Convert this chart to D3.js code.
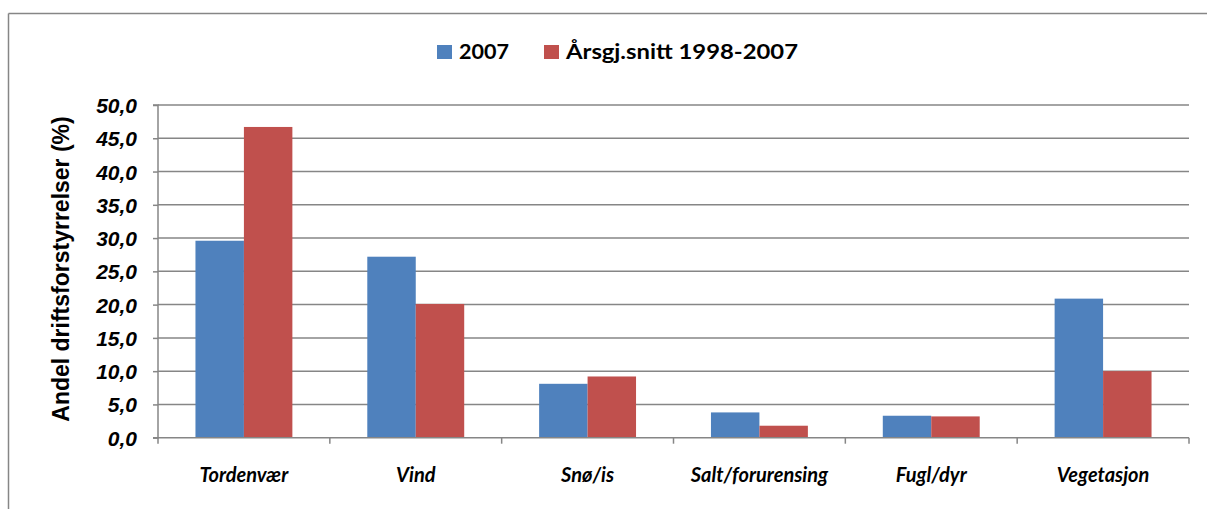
<html>
<head>
<meta charset="utf-8">
<script src="https://cdn.jsdelivr.net/npm/d3@7"></script>
<style>
  html, body { margin: 0; background: #fff; overflow: hidden; }
  svg { display: block; }
</style>
</head>
<body>
<div id="viz"></div>
<script>
var categories = ["Tordenvær", "Vind", "Snø/is", "Salt/forurensing", "Fugl/dyr", "Vegetasjon"];
var seriesNames = ["2007", "Årsgj.snitt 1998-2007"];
var values2007 = [29.6, 27.2, 8.1, 3.8, 3.3, 20.9];
var valuesAvg = [46.7, 20.1, 9.2, 1.8, 3.2, 10.0];
var yTicks = [0, 5, 10, 15, 20, 25, 30, 35, 40, 45, 50];
var colors = ["#4F81BD", "#C0504D"];

var width = 1207, height = 509;
var plot = { left: 158, right: 1189, top: 105, bottom: 437.7 };

var svg = d3.select("#viz").append("svg")
  .attr("width", width)
  .attr("height", height);

// outer frame: only left and top edges are inside the picture
svg.append("line")
  .attr("x1", 8.5).attr("y1", 13.5).attr("x2", 8.5).attr("y2", height)
  .attr("stroke", "#868686").attr("stroke-width", 1.5);
svg.append("line")
  .attr("x1", 8.5).attr("y1", 13.5).attr("x2", width).attr("y2", 13.5)
  .attr("stroke", "#868686").attr("stroke-width", 1.5);

var y = d3.scaleLinear().domain([0, 50]).range([plot.bottom, plot.top]);
var x0 = d3.scaleBand().domain(categories).range([plot.left, plot.right]).padding(0);
var x1 = d3.scaleBand().domain(seriesNames)
  .range([x0.bandwidth() * 0.218, x0.bandwidth() * 0.782]).padding(0);

// gridlines
svg.append("g").selectAll("line").data(yTicks.slice(1)).join("line")
  .attr("x1", plot.left).attr("x2", plot.right)
  .attr("y1", d => y(d)).attr("y2", d => y(d))
  .attr("stroke", "#868686").attr("stroke-width", 1.5);

// bars
var rows = categories.map((c, i) => ({ cat: c, vals: [values2007[i], valuesAvg[i]] }));
var groups = svg.append("g").selectAll("g").data(rows).join("g")
  .attr("transform", d => "translate(" + x0(d.cat) + ",0)");
groups.selectAll("rect").data(d => d.vals.map((v, j) => ({ s: seriesNames[j], v: v, j: j }))).join("rect")
  .attr("x", d => x1(d.s))
  .attr("width", x1.bandwidth())
  .attr("y", d => y(d.v))
  .attr("height", d => y(0) - y(d.v))
  .attr("fill", d => colors[d.j]);

// y axis
var yAxis = d3.axisLeft(y).tickValues(yTicks).tickSize(5)
  .tickFormat(d => d3.format(".1f")(d).replace(".", ","));
var gy = svg.append("g").attr("transform", "translate(" + plot.left + ",0)").call(yAxis);
gy.select(".domain").attr("stroke", "#868686").attr("stroke-width", 1.5).attr("d", "M-5," + plot.top + "H0V" + plot.bottom + "H-5");
gy.selectAll(".tick line").attr("stroke", "#868686").attr("stroke-width", 1.5);
gy.selectAll(".tick text")
  .attr("x", -21).attr("dy", "0.36em")
  .style("font-family", "'Liberation Sans', Arial, sans-serif")
  .style("font-size", "21px").style("font-weight", "bold").style("font-style", "italic")
  .attr("fill", "#000");

// x axis
var gx = svg.append("g").attr("transform", "translate(0," + plot.bottom + ")");
gx.append("line").attr("x1", plot.left).attr("x2", plot.right)
  .attr("stroke", "#868686").attr("stroke-width", 1.5);
var bounds = categories.map(c => x0(c)).concat([plot.right]);
gx.selectAll("line.tk").data(bounds).join("line").attr("class", "tk")
  .attr("x1", d => d).attr("x2", d => d).attr("y1", 0).attr("y2", 6)
  .attr("stroke", "#868686").attr("stroke-width", 1.5);
gx.selectAll("text").data(categories).join("text")
  .attr("x", d => x0(d) + x0.bandwidth() / 2).attr("y", 44)
  .attr("text-anchor", "middle")
  .style("font-family", "Lato, 'Open Sans', sans-serif")
  .style("font-size", "20px").style("font-weight", "bold").style("font-style", "italic")
  .text(d => d);

// y title
svg.append("text")
  .attr("transform", "translate(69,269) rotate(-90)")
  .attr("text-anchor", "middle")
  .style("font-family", "'Liberation Sans', Arial, sans-serif")
  .style("font-size", "23px").style("font-weight", "bold")
  .text("Andel driftsforstyrrelser (%)");

// legend
var legendX = [437, 544];
var legendW = [50, 232];
var lg = svg.append("g").selectAll("g").data(seriesNames).join("g")
  .attr("transform", (d, i) => "translate(" + legendX[i] + ",45)");
lg.append("rect").attr("width", 15).attr("height", 14).attr("fill", (d, i) => colors[i]);
lg.append("text").attr("x", 22).attr("y", 14)
  .attr("textLength", (d, i) => legendW[i]).attr("lengthAdjust", "spacingAndGlyphs")
  .style("font-family", "Lato, 'Open Sans', sans-serif")
  .style("font-size", "21px").style("font-weight", "bold")
  .text(d => d);
</script>
</body>
</html>
